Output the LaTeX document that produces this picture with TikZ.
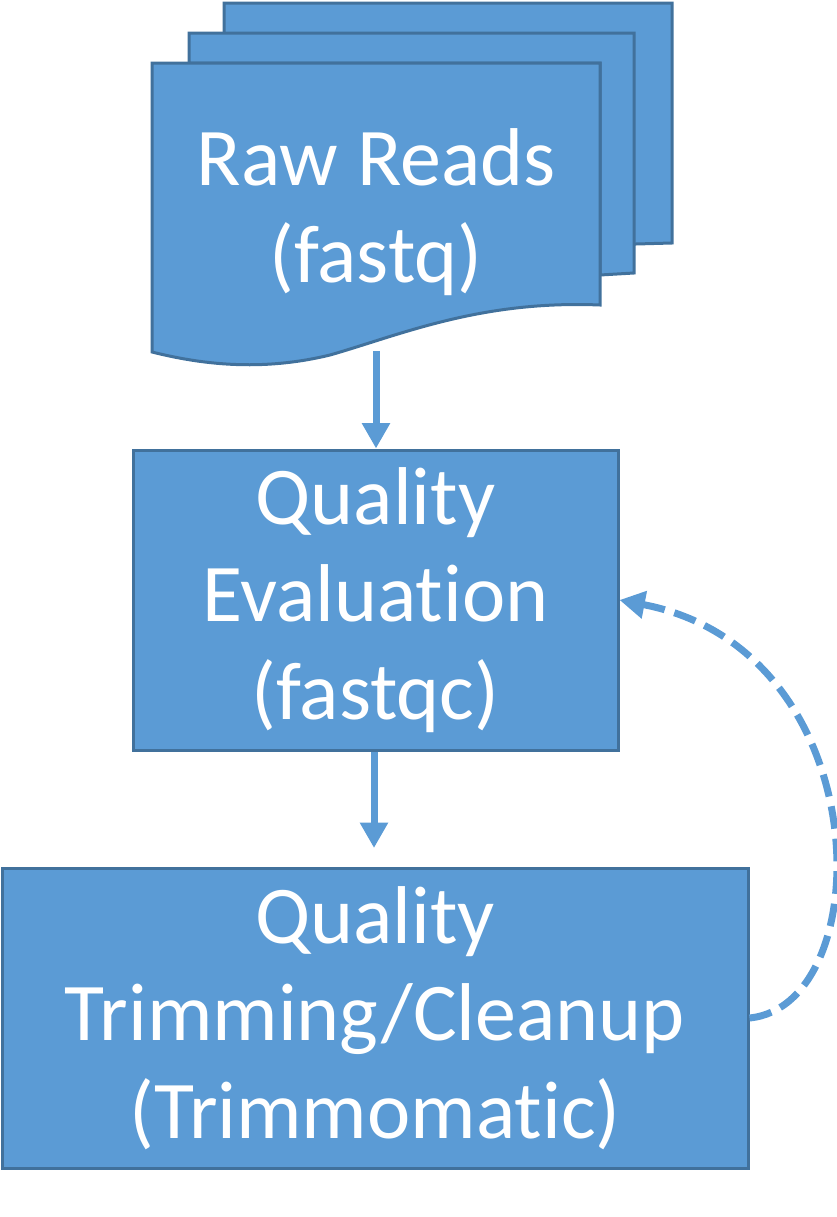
\documentclass[tikz,border=0pt]{standalone}
\usepackage{fontspec}
\setmainfont{Carlito}[Ligatures={NoCommon}]
\usetikzlibrary{arrows.meta}
\definecolor{boxfill}{HTML}{5B9BD5}
\definecolor{boxline}{HTML}{41719C}
\tikzset{
  sheet/.style={fill=boxfill,draw=boxline,line width=2.25pt,line join=miter},
  stepbox/.style={sheet,rectangle,inner sep=0pt,align=center,text=white,
    font=\fontsize{61.5pt}{73pt}\selectfont},
  lbl/.style={align=center,text=white,font=\fontsize{61.5pt}{73pt}\selectfont},
  flow/.style={draw=boxfill,line width=5.25pt,-{Triangle[length=19pt,width=20pt]}},
  back/.style={draw=boxfill,line width=5.25pt,dash pattern=on 17pt off 7.5pt,
    -{Triangle[length=19pt,width=20pt]}}
}
\begin{document}
\begin{tikzpicture}[x=0.75pt,y=-0.75pt]
\useasboundingbox (0,0) rectangle (837,1217);
% multidocument
\path[sheet] (224,3) -- (672,3) -- (672,243) -- (600,245) -- (600,63) -- (224,63) -- cycle;
\path[sheet] (189,33) -- (634,33) -- (634,273) -- (600,275) -- (600,63) -- (189,63) -- cycle;
\path[sheet] (152,63) -- (600,63) -- (600,305)
  .. controls (480,300) and (400,335) .. (330,355)
  .. controls (260,372) and (200,364) .. (152,352) -- cycle;
\node[lbl] (raw) at (376,212) {Raw Reads\\(fastq)};
\coordinate (docbot) at (376,351);
\node[stepbox,minimum width=363.75pt,minimum height=225pt] (qe) at (375.5,600)
  {Quality\\Evaluation\\(fastqc)};
\node[stepbox,minimum width=559.5pt,minimum height=225pt] (qt) at (375,1018)
  {Quality\\Trimming/Cleanup\\(Trimmomatic)};
\coordinate (a2end) at (374,848);
\draw[flow] (docbot) -- (qe.north -| docbot);
\draw[flow] (qe.south -| a2end) -- (a2end);
\draw[back] (qt.east) .. controls (880,1005) and (880,650) .. (qe.east);
\end{tikzpicture}
\end{document}
